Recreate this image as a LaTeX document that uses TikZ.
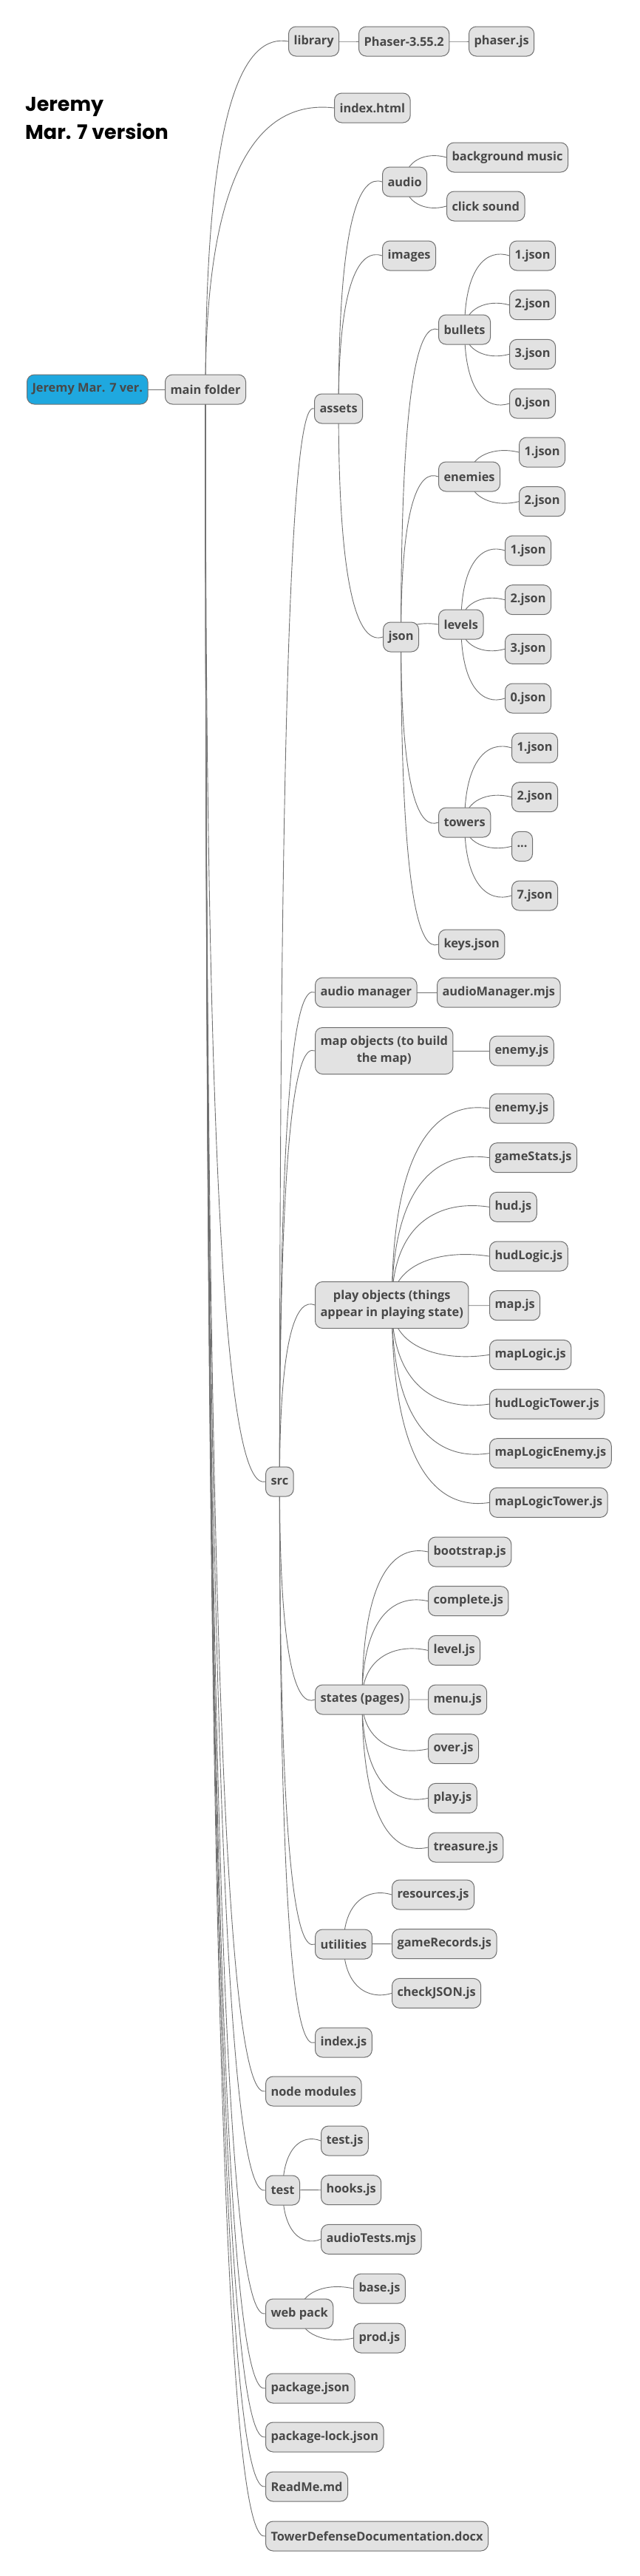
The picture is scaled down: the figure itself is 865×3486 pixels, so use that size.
\documentclass[tikz,border=0pt]{standalone}
\usepackage{fontspec}
\newfontfamily\nodefont{Open Sans}
\newfontfamily\titlefont{Poppins}
\usetikzlibrary{backgrounds,calc}

\definecolor{boxgray}{HTML}{E2E2E2}
\definecolor{linegray}{HTML}{707070}
\definecolor{textgray}{HTML}{484848}
\definecolor{rootblue}{HTML}{1FA8DF}

\tikzset{
  leaf/.style={anchor=west, draw=linegray, fill=boxgray, line width=1pt,
    rounded corners=10pt, minimum height=40pt, inner xsep=7pt, inner ysep=0pt,
    text=textgray, font=\nodefont\bfseries\fontsize{16.4}{23}\selectfont},
  rootbox/.style={leaf, fill=rootblue},
  twoline/.style={leaf, align=center, minimum height=63pt},
  twig/.style={draw=linegray, line width=0.9pt},
  heading/.style={anchor=base west, inner sep=0pt,
    font=\titlefont\bfseries\fontsize{27}{38}\selectfont},
}

\newcommand{\moredots}{...}

% curved connector from the middle of a parent to the west side of a child
\newcommand{\branch}[2]{%
  \draw[twig] let \p1=(#1.center), \p2=(#2.west), \n1={\y2-\y1} in
    (\p1) .. controls (\x1, {\y1+0.85*\n1})
    and ({0.5*\x1+0.5*\x2}, {\y2+sign(\n1)*min(10,0.25*abs(\n1))}) .. (\p2);}

\begin{document}
\begin{tikzpicture}[x=1pt, y=-1pt]
  \path[use as bounding box] (0,0) rectangle (865,3486);

  \node[heading] (title1) at (34,150) {Jeremy};
  \node[heading] (title2) at (34,188) {Mar. 7 version};

  \node[rootbox] (root) at (36,527) {Jeremy Mar. 7 ver.};
  \node[leaf] (main) at (223,527) {main folder};

  % library and index.html
  \node[leaf] (lib) at (390,56) {library};
  \node[leaf] (phaser) at (485,56) {Phaser-3.55.2};
  \node[leaf] (phaserjs) at (634,56) {phaser.js};
  \node[leaf] (indexhtml) at (452,146) {index.html};

  % src and assets
  \node[leaf] (src) at (359,2005) {src};
  \node[leaf] (assets) at (425,553) {assets};
  \node[leaf] (audio) at (517,246) {audio};
  \node[leaf] (bgmusic) at (604,213) {background music};
  \node[leaf] (clicksnd) at (604,279) {click sound};
  \node[leaf] (images) at (517,346) {images};
  \node[leaf] (json) at (518,862) {json};

  \node[leaf] (bullets) at (593,446) {bullets};
  \foreach \name/\txt [count=\k from 0] in {bul1/1.json, bul2/2.json, bul3/3.json, bul0/0.json}
  \node[leaf] (\name) at (689, {346+66.67*\k}) {\txt};

  \node[leaf] (enemies) at (593,645) {enemies};
  \foreach \name/\txt [count=\k from 0] in {ene1/1.json, ene2/2.json}
  \node[leaf] (\name) at (702, {612+66.67*\k}) {\txt};

  \node[leaf] (levels) at (593,845) {levels};
  \foreach \name/\txt [count=\k from 0] in {lev1/1.json, lev2/2.json, lev3/3.json, lev0/0.json}
  \node[leaf] (\name) at (683, {745+66.67*\k}) {\txt};

  \node[leaf] (towers) at (593,1113) {towers};
  \foreach \name/\txt [count=\k from 0] in {tow1/1.json, tow2/2.json, towdots/\moredots, tow7/7.json}
  \node[leaf] (\name) at (692, {1012+66.67*\k}) {\txt};

  \node[leaf] (keys) at (593,1278) {keys.json};

  % the rest of src
  \node[leaf] (audiomgr) at (426,1343) {audio manager};
  \node[leaf] (audiomgrjs) at (591,1343) {audioManager.mjs};
  \node[twoline] (mapobj) at (426,1422) {map objects (to build\\the map)};
  \node[leaf] (mapenemy) at (662,1422) {enemy.js};

  \node[twoline] (playobj) at (426,1766) {play objects (things\\appear in playing state)};
  \foreach \name/\txt [count=\k from 0] in {playenemy/enemy.js, gamestats/gameStats.js,
    hud/hud.js, hudlogic/hudLogic.js, mapjs/map.js, maplogic/mapLogic.js,
    hudlogictower/hudLogicTower.js, maplogicenemy/mapLogicEnemy.js,
    maplogictower/mapLogicTower.js}
  \node[leaf] (\name) at (662, {1500+66.67*\k}) {\txt};

  \node[leaf] (states) at (426,2300) {states (pages)};
  \foreach \name/\txt [count=\k from 0] in {bootstrap/bootstrap.js, complete/complete.js,
    leveljs/level.js, menu/menu.js, over/over.js, play/play.js, treasure/treasure.js}
  \node[leaf] (\name) at (579, {2100+66.67*\k}) {\txt};

  \node[leaf] (utilities) at (426,2631) {utilities};
  \foreach \name/\txt [count=\k from 0] in {resources/resources.js,
    gamerecords/gameRecords.js, checkjson/checkJSON.js}
  \node[leaf] (\name) at (530, {2564+66.67*\k}) {\txt};

  \node[leaf] (indexjs) at (426,2764) {index.js};

  % below src
  \node[leaf] (nodemod) at (359,2830) {node modules};
  \node[leaf] (test) at (359,2964) {test};
  \foreach \name/\txt [count=\k from 0] in {testjs/test.js, hooks/hooks.js, audiotests/audioTests.mjs}
  \node[leaf] (\name) at (434, {2897+66.67*\k}) {\txt};
  \node[leaf] (webpack) at (359,3131) {web pack};
  \node[leaf] (base) at (478,3097) {base.js};
  \node[leaf] (prod) at (478,3164) {prod.js};
  \node[leaf] (pkg) at (359,3232) {package.json};
  \node[leaf] (pkglock) at (359,3298) {package-lock.json};
  \node[leaf] (readme) at (359,3365) {ReadMe.md};
  \node[leaf] (towerdoc) at (359,3432) {TowerDefenseDocumentation.docx};

  \begin{pgfonlayer}{background}
    \fill[white] (0,0) rectangle (865,3486);
    \branch{root}{main}
    \foreach \c in {lib, indexhtml, src, nodemod, test, webpack, pkg, pkglock, readme, towerdoc}
    {\branch{main}{\c}}
    \branch{lib}{phaser}
    \branch{phaser}{phaserjs}
    \foreach \c in {assets, audiomgr, mapobj, playobj, states, utilities, indexjs}
    {\branch{src}{\c}}
    \foreach \c in {audio, images, json}
    {\branch{assets}{\c}}
    \branch{audio}{bgmusic}
    \branch{audio}{clicksnd}
    \foreach \c in {bullets, enemies, levels, towers, keys}
    {\branch{json}{\c}}
    \foreach \c in {bul1, bul2, bul3, bul0}
    {\branch{bullets}{\c}}
    \branch{enemies}{ene1}
    \branch{enemies}{ene2}
    \foreach \c in {lev1, lev2, lev3, lev0}
    {\branch{levels}{\c}}
    \foreach \c in {tow1, tow2, towdots, tow7}
    {\branch{towers}{\c}}
    \branch{audiomgr}{audiomgrjs}
    \branch{mapobj}{mapenemy}
    \foreach \c in {playenemy, gamestats, hud, hudlogic, mapjs, maplogic, hudlogictower, maplogicenemy, maplogictower}
    {\branch{playobj}{\c}}
    \foreach \c in {bootstrap, complete, leveljs, menu, over, play, treasure}
    {\branch{states}{\c}}
    \foreach \c in {resources, gamerecords, checkjson}
    {\branch{utilities}{\c}}
    \foreach \c in {testjs, hooks, audiotests}
    {\branch{test}{\c}}
    \branch{webpack}{base}
    \branch{webpack}{prod}
  \end{pgfonlayer}
\end{tikzpicture}
\end{document}
